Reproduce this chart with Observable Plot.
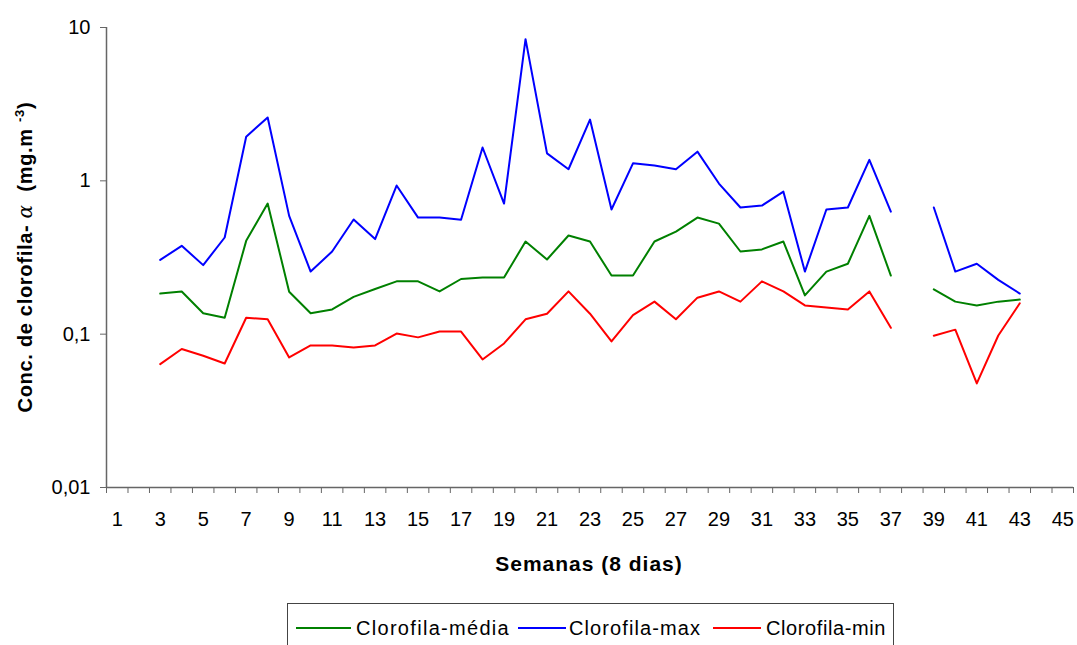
<!DOCTYPE html>
<html>
<head>
<meta charset="utf-8">
<script src="https://cdn.jsdelivr.net/npm/d3@7"></script>
<script src="https://cdn.jsdelivr.net/npm/@observablehq/plot@0.6"></script>
<style>
  body { margin: 0; background: #fff; font-family: "Liberation Sans", Arial, sans-serif; }
  #wrap { position: relative; width: 1077px; height: 645px; overflow: hidden; }
  #legend { position: absolute; left: 287px; top: 603px; width: 607px; height: 50px; border: 1px solid #444; box-sizing: border-box; font-size: 20px; }
  .sw { position: absolute; top: 11px; height: 2px; }
  .lab { position: absolute; top: 0; line-height: 24px; white-space: nowrap; }
</style>
</head>
<body>
<div id="wrap">
  <div id="chart"></div>
  <div id="legend"></div>
</div>
<script>
const weeks = [3,4,5,6,7,8,9,10,11,12,13,14,15,16,17,18,19,20,21,22,23,24,25,26,27,28,29,30,31,32,33,34,35,36,37,38,39,40,41,42,43];
const media = [0.184,0.190,0.137,0.128,0.406,0.711,0.189,0.137,0.145,0.175,0.197,0.221,0.221,0.190,0.229,0.234,0.234,0.402,0.307,0.440,0.402,0.241,0.241,0.402,0.467,0.576,0.526,0.346,0.357,0.402,0.179,0.256,0.288,0.591,0.241,null,0.196,0.163,0.154,0.163,0.168];
const maxv = [0.305,0.377,0.282,0.427,1.94,2.59,0.591,0.256,0.346,0.560,0.417,0.932,0.576,0.576,0.557,1.65,0.711,8.39,1.51,1.19,2.51,0.650,1.30,1.26,1.19,1.55,0.96,0.67,0.69,0.85,0.256,0.65,0.67,1.37,0.63,null,0.67,0.256,0.288,0.226,0.184];
const minv = [0.0638,0.080,0.0723,0.0644,0.128,0.125,0.0705,0.0844,0.0844,0.0819,0.0844,0.101,0.0953,0.104,0.104,0.0684,0.087,0.125,0.136,0.190,0.136,0.0896,0.133,0.163,0.125,0.173,0.190,0.163,0.221,0.190,0.154,0.149,0.145,0.190,0.110,null,0.0977,0.107,0.0477,0.098,0.159];
const seriesNames = ["Clorofila-média","Clorofila-max","Clorofila-min"];
const seriesColors = ["#008000","#0000ff","#ff0000"];
const yTicks = [0.01,0.1,1,10];
const xLabelTicks = d3.range(1,46,2);

const data = [];
[media,maxv,minv].forEach((arr,i)=>{
  weeks.forEach((w,j)=>data.push({week:w, value:arr[j], series:seriesNames[i]}));
});

const axisColor = "#666";
const svg = Plot.plot({
  width: 1077, height: 595,
  marginLeft: 106, marginRight: 4, marginTop: 27, marginBottom: 108,
  style: {fontFamily: "'Liberation Sans', Arial, sans-serif", fontSize: "20px", color: "#000", background: "#fff"},
  x: {domain: [0.5, 45.5], axis: null},
  y: {type: "log", domain: [0.01, 10], axis: null},
  color: {domain: seriesNames, range: seriesColors},
  marks: [
    Plot.axisY({ticks: yTicks, tickFormat: d => String(d).replace(".", ","), tickSize: 6, tickPadding: 10, stroke: axisColor, label: null, fontSize: 20}),
    Plot.axisX({ticks: d3.range(0.5, 46, 1), tickSize: 6, tickFormat: () => "", stroke: axisColor, label: null}),
    Plot.axisX({ticks: xLabelTicks, tickSize: 0, tickPadding: 24, label: null, fontSize: 20}),
    Plot.ruleX([0.5], {stroke: axisColor, strokeWidth: 1.5}),
    Plot.ruleY([0.01], {stroke: axisColor, strokeWidth: 1.5}),
    Plot.line(data, {x: "week", y: "value", z: "series", stroke: "series", strokeWidth: 2})
  ]
});

const s = d3.select(svg);
s.append("text")
  .attr("x", 589).attr("y", 571)
  .attr("text-anchor", "middle")
  .attr("font-weight", "bold").attr("font-size", 21)
  .attr("letter-spacing", "1px")
  .attr("fill", "#000")
  .text("Semanas (8 dias)");

const yt = s.append("text")
  .attr("transform", "translate(32,257) rotate(-90)")
  .attr("text-anchor", "middle")
  .attr("font-weight", "bold").attr("font-size", 20)
  .attr("letter-spacing", "0.7px")
  .attr("fill", "#000");
yt.append("tspan").text("Conc. de clorofila- ");
yt.append("tspan").attr("font-style", "italic").attr("font-weight", "normal").attr("font-family", "'DejaVu Serif', serif").text("α");
yt.append("tspan").text("  (mg.m ");
yt.append("tspan").attr("dy", -8).attr("font-size", 13).text("-3");
yt.append("tspan").attr("dy", 8).text(")");

document.getElementById("chart").appendChild(svg);

const swX = [8, 230, 425];
const swW = [55, 48, 48];
const labX = [68, 281, 478];
const labSpacing = [1.3, 1.1, 0.6];
const lg = d3.select("#legend");
seriesNames.forEach((n,i)=>{
  lg.append("div").attr("class","sw").style("left", swX[i] + "px").style("width", swW[i] + "px").style("top", "23px").style("background", seriesColors[i]);
  lg.append("div").attr("class","lab").style("left", labX[i] + "px").style("top", "12px").style("letter-spacing", labSpacing[i] + "px").text(n);
});
</script>
</body>
</html>
